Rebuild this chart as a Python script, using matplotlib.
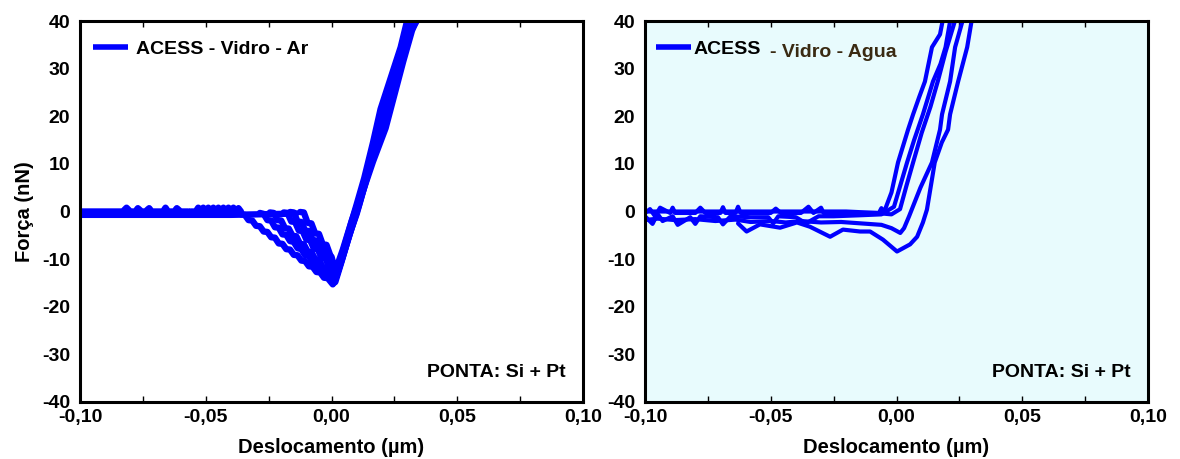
import matplotlib
matplotlib.use("Agg")
import matplotlib.pyplot as plt
from matplotlib.ticker import MultipleLocator, FixedLocator

plt.rcParams['font.family'] = ['Liberation Sans', 'DejaVu Sans']
plt.rcParams['font.weight'] = 'bold'
plt.rcParams['axes.unicode_minus'] = False

BLUE = '#0000ff'

# ---------------- left panel: Vidro - Ar ----------------
# flat baseline with small bumps
ar_base_x = [-0.100, -0.083, -0.0815, -0.080, -0.078, -0.077, -0.0755, -0.074, -0.0725, -0.0715,
             -0.070, -0.067, -0.066, -0.065, -0.0625, -0.0615, -0.060, -0.057, -0.0565, -0.056,
             -0.054, -0.053, -0.052, -0.051, -0.050, -0.049, -0.048, -0.047, -0.046, -0.045,
             -0.044, -0.043, -0.042, -0.041, -0.040, -0.039, -0.038, -0.037, -0.036]
ar_base_y = [0.0, 0.0, 0.8, 0.0, 0.0, 0.7, 0.0, 0.0, 0.7, 0.0,
             0.0, 0.0, 0.8, 0.0, 0.0, 0.7, 0.0, 0.0, -0.7, 0.0,
             0.0, 0.8, 0.2, 0.8, 0.0, 0.8, 0.1, 0.8, 0.0, 0.8,
             0.1, 0.8, 0.0, 0.8, 0.2, 0.8, 0.0, 0.7, 0.0]
ar_base2_x = [-0.100, -0.060, -0.040, -0.030, -0.020, -0.014]
ar_base2_y = [-0.7, -0.7, -0.7, -0.6, -0.5, -0.4]

# curves: jump-off, stepped descent to adhesion minimum, contact line
ar1_x = [-0.036, -0.0345, -0.033, -0.0315, -0.030, -0.0285, -0.027, -0.0255, -0.024, -0.0225, -0.021,
         -0.0195, -0.018, -0.0165, -0.015, -0.0135, -0.012, -0.0105, -0.009, -0.0075, -0.006, -0.0045,
         -0.003, -0.0015, 0.0005,
         0.002, 0.0045, 0.0075, 0.010, 0.013, 0.0165, 0.0195, 0.0235, 0.0275, 0.0305]
ar1_y = [-0.6, -0.7, -1.8, -1.9, -3.0, -3.1, -4.2, -4.3, -5.4, -5.5, -6.7,
         -6.8, -7.9, -8.0, -9.1, -9.2, -10.3, -10.4, -11.5, -11.6, -12.7, -12.8,
         -13.9, -14.0, -15.3,
         -13.5, -8.5, -3.0, 1.5, 7.0, 14.5, 21.5, 28.0, 34.5, 41.0]
ar2_x = [-0.0285, -0.027, -0.0255, -0.024, -0.0225, -0.021, -0.0195, -0.018, -0.0165, -0.015,
         -0.0135, -0.012, -0.0105, -0.009, -0.0075, -0.006, -0.0045, -0.003, -0.0015, 0.000,
         0.0015, 0.004, 0.007, 0.010, 0.0135, 0.0175, 0.0215, 0.0255, 0.0295, 0.033]
ar2_y = [-0.3, -0.5, -1.8, -1.9, -3.3, -3.4, -4.8, -4.9, -6.2, -6.4,
         -7.7, -7.9, -9.2, -9.3, -10.7, -10.8, -12.2, -12.3, -13.6, -14.2,
         -14.8, -10.5, -5.0, -0.5, 6.0, 13.5, 20.5, 27.5, 34.0, 41.0]
ar3_x = [-0.0245, -0.023, -0.0215, -0.020, -0.0185, -0.017, -0.0155, -0.014, -0.0125, -0.011,
         -0.0095, -0.008, -0.0065, -0.005, -0.0035, -0.002, -0.0005,
         0.001, 0.0035, 0.0065, 0.0095, 0.013, 0.0165, 0.020, 0.0235, 0.027, 0.030, 0.0315]
ar3_y = [-0.2, -0.3, -1.8, -1.9, -3.5, -3.6, -5.1, -5.2, -6.8, -6.9,
         -8.4, -8.5, -10.0, -10.1, -11.7, -11.8, -13.3,
         -15.0, -10.5, -5.5, -0.5, 6.0, 12.5, 19.0, 26.0, 33.0, 38.0, 41.0]
ar4_x = [-0.019, -0.0175, -0.016, -0.0145, -0.013, -0.0115, -0.010, -0.0085, -0.007, -0.0055,
         -0.004, -0.0025, -0.001, 0.000,
         0.0015, 0.0045, 0.008, 0.011, 0.015, 0.019, 0.023, 0.027, 0.031, 0.0335]
ar4_y = [-0.2, -0.3, -2.1, -2.2, -4.0, -4.1, -5.9, -6.0, -7.8, -7.9,
         -9.7, -9.8, -11.6, -12.2,
         -14.3, -9.5, -3.5, 1.5, 9.0, 16.5, 23.5, 30.5, 37.0, 41.0]
ar5_x = [-0.0165, -0.015, -0.0135, -0.012, -0.0105, -0.009, -0.0075, -0.006, -0.0045, -0.003,
         -0.0015, 0.0005,
         0.002, 0.005, 0.0085, 0.012, 0.0165, 0.0215, 0.025, 0.0285, 0.032, 0.0345]
ar5_y = [-0.1, -0.2, -2.1, -2.2, -4.0, -4.1, -6.0, -6.1, -8.0, -8.1,
         -10.0, -11.2,
         -13.5, -8.5, -2.5, 3.5, 10.5, 17.5, 24.5, 31.5, 38.0, 41.0]
ar6_x = [-0.0125, -0.011, -0.0095, -0.008, -0.0065, -0.005, -0.0035, -0.002, -0.0005, 0.000,
         0.0015, 0.0045, 0.008, 0.012, 0.016, 0.021, 0.0245, 0.028, 0.031, 0.035]
ar6_y = [-0.1, -0.2, -2.4, -2.5, -4.6, -4.7, -6.9, -7.0, -9.2, -9.5,
         -12.5, -8.0, -2.0, 4.0, 11.0, 18.0, 25.0, 31.5, 37.5, 41.0]

ar_curves = [(ar_base_x, ar_base_y), (ar_base2_x, ar_base2_y),
             (ar1_x, ar1_y), (ar2_x, ar2_y), (ar3_x, ar3_y),
             (ar4_x, ar4_y), (ar5_x, ar5_y), (ar6_x, ar6_y)]

# ---------------- right panel: Vidro - Agua ----------------
ag1_x = [-0.100, -0.098, -0.096, -0.094, -0.090, -0.089, -0.088, -0.080, -0.078, -0.076, -0.070, -0.069,
         -0.068, -0.064, -0.063, -0.062, -0.050, -0.048, -0.046, -0.038, -0.035, -0.033, -0.030, -0.029,
         -0.020, -0.007, -0.006, -0.005, -0.002, 0.0006, 0.0046, 0.0066, 0.0090, 0.0113, 0.0141, 0.0173, 0.0185]
ag1_y = [-0.3, 0.5, -1.0, 0.8, -0.3, 0.8, -0.3, -0.3, 0.8, -0.3, -0.3, 0.9,
         -0.3, -0.3, 1.0, -0.3, -0.3, 0.6, -0.3, -0.3, 1.0, -0.3, 0.8, -0.3,
         -0.3, -0.3, 0.7, -0.2, 4.0, 10.3, 17.2, 20.4, 24.0, 27.3, 34.5, 37.2, 40.5]
ag2_x = [-0.100, -0.097, -0.095, -0.093, -0.089, -0.087, -0.082, -0.080, -0.078, -0.071, -0.069, -0.066,
         -0.058, -0.051, -0.049, -0.047, -0.040, -0.036, -0.031, -0.025, -0.015, -0.006, -0.001,
         0.0042, 0.0070, 0.0105, 0.0145, 0.0175, 0.0195, 0.0215]
ag2_y = [-1.0, -2.6, -0.5, -2.0, -1.0, -2.8, -1.2, -2.6, -1.0, -1.2, -2.7, -1.0,
         -1.2, -1.2, -2.5, -1.0, -1.2, -2.5, -1.0, -1.0, -0.8, -0.6, 1.0,
         10.3, 15.0, 20.4, 27.3, 31.0, 34.5, 40.5]
ag3_x = [-0.100, -0.080, -0.060, -0.040, -0.020, -0.008, -0.002, 0.0014, 0.0040, 0.0066, 0.0100,
         0.0135, 0.0165, 0.0195, 0.0215, 0.0235]
ag3_y = [0.0, 0.0, 0.0, 0.0, 0.0, -0.3, -0.6, 0.5, 5.5, 10.3, 16.5,
         22.0, 27.5, 33.5, 37.0, 40.5]
ag4_x = [-0.100, -0.095, -0.088, -0.080, -0.072, -0.064, -0.058, -0.050, -0.044, -0.038, -0.030,
         -0.022, -0.014, -0.006, -0.002, 0.0015, 0.0030, 0.0050, 0.0095, 0.0141, 0.0173, 0.0181,
         0.0213, 0.0233, 0.0265]
ag4_y = [-1.8, -1.5, -1.8, -1.6, -2.0, -1.7, -2.2, -2.0, -2.3, -2.0, -2.3,
         -2.2, -2.5, -2.8, -3.5, -4.5, -3.5, -1.0, 5.0, 10.3, 17.2, 20.4,
         27.3, 34.5, 40.5]
ag5_x = [-0.063, -0.0596, -0.0543, -0.0463, -0.0396, -0.0344, -0.0264, -0.0213, -0.0145, -0.0105,
         -0.0054, 0.0002, 0.0054, 0.0082, 0.0105, 0.0121, 0.0152, 0.0180, 0.0205, 0.0213, 0.0245,
         0.0281, 0.0300]
ag5_y = [-2.5, -4.2, -2.7, -3.4, -2.3, -3.2, -5.3, -3.8, -4.2, -4.2,
         -5.9, -8.4, -6.9, -5.3, -2.3, 0.4, 10.3, 14.5, 17.2, 20.4, 27.3,
         34.5, 40.5]

ag_curves = [(ag1_x, ag1_y), (ag2_x, ag2_y), (ag3_x, ag3_y), (ag4_x, ag4_y), (ag5_x, ag5_y)]

x_ticks = [-0.10, -0.05, 0.00, 0.05, 0.10]
x_ticklabels = ['-0,10', '-0,05', '0,00', '0,05', '0,10']
y_ticks = [-40, -30, -20, -10, 0, 10, 20, 30, 40]

fig = plt.figure(figsize=(11.8, 4.59), dpi=100)
ax1 = fig.add_axes([0.0678, 0.1242, 0.4263, 0.830])
ax2 = fig.add_axes([0.5466, 0.1242, 0.4263, 0.830])


def style(ax):
    ax.set_xlim(-0.10, 0.10)
    ax.set_ylim(-40, 40)
    ax.xaxis.set_major_locator(FixedLocator(x_ticks))
    ax.set_xticklabels(x_ticklabels)
    ax.xaxis.set_minor_locator(MultipleLocator(0.025))
    ax.set_yticks(y_ticks)
    ax.tick_params(axis='both', which='both', direction='in', labelsize=14, width=1)
    ax.tick_params(axis='x', which='both', top=True, length=4, pad=5)
    ax.tick_params(axis='y', length=0, pad=7)
    for s in ax.spines.values():
        s.set_linewidth(2.2)
    ax.set_xlabel('Deslocamento (µm)', fontsize=14.5, fontweight='bold', labelpad=9)
    ax.text(0.965, 0.055, 'PONTA: Si + Pt', transform=ax.transAxes, ha='right', va='bottom',
            fontsize=14, fontweight='bold')


for i, (xs, ys) in enumerate(ar_curves):
    ax1.plot(xs, ys, color=BLUE, lw=4.6, solid_joinstyle='round', solid_capstyle='round',
             label='ACESS - Vidro - Ar' if i == 0 else None)
for i, (xs, ys) in enumerate(ag_curves):
    ax2.plot(xs, ys, color=BLUE, lw=3.0, solid_joinstyle='round', solid_capstyle='round',
             label='ACESS' if i == 0 else None)

style(ax1)
style(ax2)
ax2.set_facecolor('#e8fbfd')
ax1.set_ylabel('Força (nN)', fontsize=14.5, fontweight='bold', labelpad=6)

leg_kw = dict(loc='center left', frameon=False, fontsize=14, handlelength=1.8,
              borderaxespad=0, borderpad=0)
l1 = ax1.legend(bbox_to_anchor=(0.026, 0.927), handletextpad=0.4, **leg_kw)
l2 = ax2.legend(bbox_to_anchor=(0.022, 0.927), handletextpad=0.15, **leg_kw)
for l in (l1, l2):
    for h in l.get_lines():
        h.set_linewidth(4)
        h.set_solid_capstyle('butt')
ax2.text(0.2485, 0.905, '- Vidro - Agua', transform=ax2.transAxes, ha='left', va='baseline',
         fontsize=14, fontweight='bold', color='#3a2a12')

fig.savefig('out.png', dpi=100)
